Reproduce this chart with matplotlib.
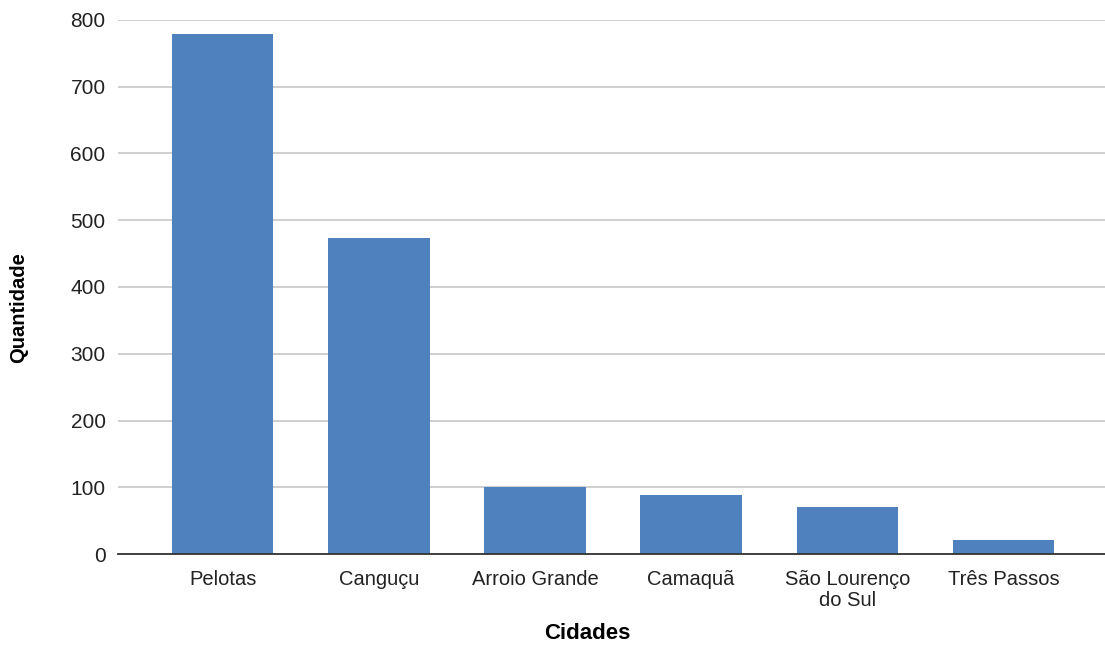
import matplotlib.pyplot as plt
import numpy as np

cidades = ["Pelotas", "Canguçu", "Arroio Grande", "Camaquã", "São Lourenço\ndo Sul", "Três Passos"]
quantidade = [778, 473, 100, 89, 71, 21]
yticks = [0, 100, 200, 300, 400, 500, 600, 700, 800]

fig = plt.figure(figsize=(11.05, 6.48), dpi=100)
ax = fig.add_axes([118 / 1105, 1 - 554.3 / 648, (1105 - 118) / 1105, (554.3 - 19.7) / 648])

x = np.arange(len(cidades))
ax.bar(x, quantidade, width=0.65, color="#4e81bd", zorder=3)

ax.set_ylim(0, 800)
ax.set_xlim(-0.67, 5.65)
ax.set_yticks(yticks)
ax.set_yticklabels([str(t) for t in yticks], fontsize=15, family="Liberation Sans")
ax.set_xticks(x)
ax.set_xticklabels(cidades, fontsize=14.5, family="Liberation Sans", linespacing=1.15)

ax.grid(axis="y", color="#cccccc", linewidth=1.3, zorder=0)
for s in ["left", "right", "top"]:
    ax.spines[s].set_visible(False)
ax.spines["bottom"].set_color("#333333")
ax.spines["bottom"].set_linewidth(1.3)
ax.spines["bottom"].set_zorder(4)
ax.tick_params(axis="y", length=0, pad=9, colors="#222222")
ax.tick_params(axis="x", length=0, pad=11, colors="#222222")

ax.set_xlabel("Cidades", fontsize=16, fontweight="bold", family="Liberation Sans")
ax.set_ylabel("Quantidade", fontsize=14.5, fontweight="bold", family="Liberation Sans")
ax.xaxis.set_label_coords(0.4757, -0.149)
ax.xaxis.label.set_verticalalignment("center")
ax.yaxis.set_label_coords(-0.1003, 0.4607)
ax.yaxis.label.set_verticalalignment("center")

fig.savefig("out.png", dpi=100)
